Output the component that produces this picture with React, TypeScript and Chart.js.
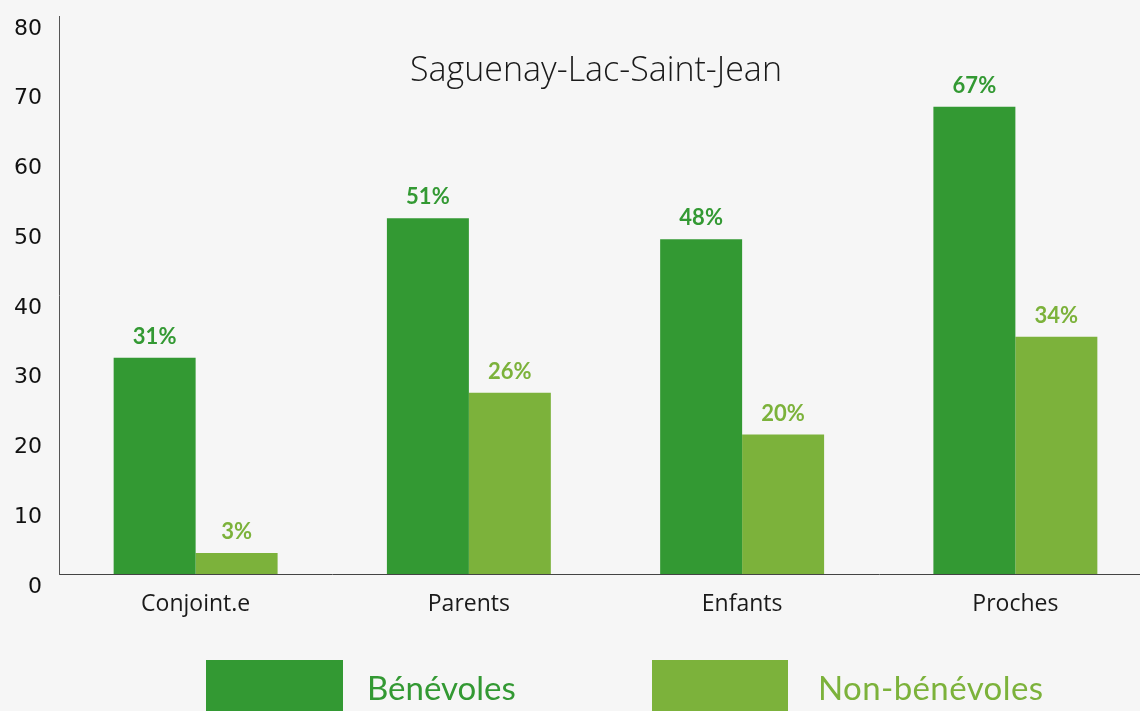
import React, { useEffect, useRef } from "react";
import { Chart, registerables } from "chart.js";

Chart.register(...registerables);

const categories = ["Conjoint.e", "Parents", "Enfants", "Proches"];
const benevoles = [31, 51, 48, 67];
const nonBenevoles = [3, 26, 20, 34];
const seriesNames = ["Bénévoles", "Non-bénévoles"];
const yTicks = [0, 10, 20, 30, 40, 50, 60, 70, 80];
const title = "Saguenay-Lac-Saint-Jean";

const DARK = "#339933";
const LIGHT = "#7cb23b";
const BG = "#f6f6f6";

const valueLabels = {
  id: "valueLabels",
  afterDatasetsDraw(chart: any) {
    const ctx = chart.ctx;
    ctx.save();
    ctx.font = "bold 22px Lato";
    ctx.textAlign = "center";
    ctx.textBaseline = "middle";
    chart.data.datasets.forEach((ds: any, i: number) => {
      const meta = chart.getDatasetMeta(i);
      ctx.fillStyle = ds.backgroundColor;
      meta.data.forEach((bar: any, j: number) => {
        ctx.fillText(ds.data[j] + "%", bar.x, bar.y - 21);
      });
    });
    ctx.restore();
  },
};

const innerTitle = {
  id: "innerTitle",
  afterDraw(chart: any) {
    const ctx = chart.ctx;
    ctx.save();
    ctx.font = "300 34px 'Open Sans'";
    ctx.fillStyle = "#1a1a1a";
    ctx.textAlign = "center";
    ctx.textBaseline = "middle";
    ctx.fillText(title, 596, 71);
    ctx.restore();
  },
};

export default function App() {
  const ref = useRef<HTMLCanvasElement>(null);

  useEffect(() => {
    document.body.style.margin = "0";
    document.body.style.background = BG;
    const chart = new Chart(ref.current!, {
      type: "bar",
      data: {
        labels: categories,
        datasets: [
          { label: seriesNames[0], data: benevoles, backgroundColor: DARK, barPercentage: 1, categoryPercentage: 0.6 },
          { label: seriesNames[1], data: nonBenevoles, backgroundColor: LIGHT, barPercentage: 1, categoryPercentage: 0.6 },
        ],
      },
      options: {
        animation: false,
        responsive: false,
        maintainAspectRatio: false,
        layout: { autoPadding: false, padding: { top: 16, left: 0, right: 0, bottom: 0 } },
        plugins: { legend: { display: false }, tooltip: { enabled: false }, title: { display: false } },
        scales: {
          x: {
            grid: { display: false, drawTicks: false },
            border: { display: true, color: "#444", width: 1 },
            ticks: { color: "#1a1a1a", font: { family: "'Open Sans'", size: 23 }, padding: 17 },
            afterFit: (s: any) => {
              s.height = 711 - 574;
              s.paddingLeft = 0;
              s.paddingRight = 0;
            },
          },
          y: {
            min: 0,
            max: 80,
            afterBuildTicks: (s: any) => { s.ticks = yTicks.map((v) => ({ value: v })); },
            grid: { display: false, drawTicks: false },
            border: { display: true, color: "#555", width: 1 },
            ticks: { color: "#111", font: { family: "DejaVu Sans", size: 22 }, padding: 17, labelOffset: 13 },
            afterFit: (s: any) => {
              s.width = 59;
              s.paddingTop = 0;
              s.paddingBottom = 0;
            },
          },
        },
      },
      plugins: [valueLabels, innerTitle],
    });
    return () => chart.destroy();
  }, []);

  const legendText: React.CSSProperties = {
    position: "absolute",
    top: 665,
    fontFamily: "Lato",
    fontSize: 33,
    lineHeight: "44px",
    whiteSpace: "nowrap",
  };

  return (
    <div style={{ position: "relative", width: 1140, height: 711, background: BG, overflow: "hidden" }}>
      <canvas ref={ref} width={1152} height={711} style={{ display: "block", width: 1152, height: 711 }} />
      <div style={{ position: "absolute", left: 206, top: 660, width: 137, height: 60, background: DARK }} />
      <div style={{ ...legendText, left: 367, color: DARK }}>{seriesNames[0]}</div>
      <div style={{ position: "absolute", left: 652, top: 660, width: 136, height: 60, background: LIGHT }} />
      <div style={{ ...legendText, left: 818, color: LIGHT, letterSpacing: "0.4px" }}>{seriesNames[1]}</div>
    </div>
  );
}
